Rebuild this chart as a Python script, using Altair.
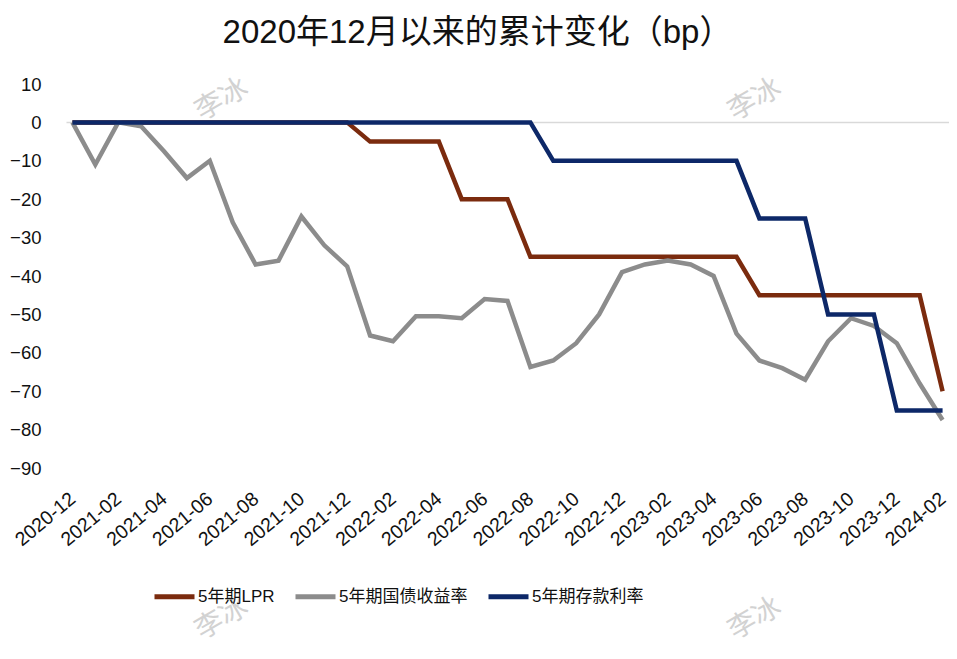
import altair as alt
import pandas as pd

months = ["2020-12","2021-01","2021-02","2021-03","2021-04","2021-05","2021-06","2021-07","2021-08","2021-09",
          "2021-10","2021-11","2021-12","2022-01","2022-02","2022-03","2022-04","2022-05","2022-06","2022-07",
          "2022-08","2022-09","2022-10","2022-11","2022-12","2023-01","2023-02","2023-03","2023-04","2023-05",
          "2023-06","2023-07","2023-08","2023-09","2023-10","2023-11","2023-12","2024-01","2024-02"]

lpr = [0,0,0,0,0,0,0,0,0,0,0,0,0,-5,-5,-5,-5,-20,-20,-20,-35,-35,-35,-35,-35,-35,-35,-35,-35,-35,
       -45,-45,-45,-45,-45,-45,-45,-45,-70]
bond = [0,-11,0,-1,-7.5,-14.5,-10,-26,-37,-36,-24.5,-32,-37.5,-55.5,-57,-50.5,-50.5,-51,-46,-46.5,
        -63.7,-62,-57.5,-50,-39,-37,-36,-37,-40,-55,-62,-64,-67,-57,-51,-53,-57.5,-68,-77.5]
deposit = [0,0,0,0,0,0,0,0,0,0,0,0,0,0,0,0,0,0,0,0,0,-10,-10,-10,-10,-10,-10,-10,-10,-10,
           -25,-25,-25,-50,-50,-50,-75,-75,-75]

series_names = ["5年期LPR", "5年期国债收益率", "5年期存款利率"]
series_colors = ["#7B2B0E", "#8C8C8C", "#0D2868"]
tick_labels = months[::2]
y_ticks = [10, 0, -10, -20, -30, -40, -50, -60, -70, -80, -90]

rows = []
for name, vals, order in zip(series_names, [lpr, bond, deposit], [1, 0, 2]):
    for m, v in zip(months, vals):
        rows.append({"month": m, "value": v, "series": name, "order": order})
df = pd.DataFrame(rows)

FONT = "Liberation Sans, Arial, Noto Sans CJK SC"

x_enc = alt.X("month:O", sort=months,
              scale=alt.Scale(type="point", padding=0.28),
              axis=alt.Axis(title=None, values=tick_labels, labelAngle=-40, labelAlign="right",
                            labelBaseline="middle", labelFontSize=19.5, labelColor="#111",
                            labelPadding=28, domain=False, ticks=False, labelFont=FONT,
                            labelOverlap=False))
y_enc = alt.Y("value:Q", scale=alt.Scale(domain=[-90, 10], nice=False, zero=False),
              axis=alt.Axis(title=None, values=y_ticks, grid=True, domain=False, ticks=False,
                            gridColor="#d9d9d9", gridWidth=1.5,
                            gridOpacity=alt.condition("datum.value === 0", alt.value(1), alt.value(0)),
                            labelFontSize=18.5, labelColor="#111", labelPadding=25, labelFont=FONT,
                            labelOverlap=False))

lines = alt.Chart(df).mark_line(strokeWidth=4.5, strokeJoin="miter").encode(
    x=x_enc, y=y_enc,
    color=alt.Color("series:N", sort=series_names,
                    scale=alt.Scale(domain=series_names, range=series_colors),
                    legend=alt.Legend(title=None, orient="none", direction="horizontal",
                                      legendX=86, legendY=490, symbolType="stroke",
                                      symbolStrokeWidth=5, symbolSize=1600, labelFontSize=17,
                                      labelColor="#111", labelFont=FONT, columnPadding=10,
                                      symbolOffset=0, labelOffset=1)),
    order=alt.Order("order:Q"),
    detail="series:N",
)

wm_pos = [(156, 16), (689, 16), (156, 535), (689, 535)]
wms = []
for (wx, wy) in wm_pos:
    wms.append(alt.Chart(pd.DataFrame({"t": ["李冰"]})).mark_text(
        fontSize=28, color="#d2d2d2", angle=330, font="Noto Sans CJK SC").encode(
        text="t:N", x=alt.value(wx), y=alt.value(wy)))

chart = alt.layer(lines, *wms).properties(
    width=883, height=384,
    title=alt.TitleParams("2020年12月以来的累计变化（bp）", fontSize=33, fontWeight="normal",
                          font="Liberation Sans, Noto Sans CJK SC", color="#111", offset=24, dx=-30),
    autosize=alt.AutoSizeParams(type="none"),
    padding={"left": 58, "top": 76, "right": 0, "bottom": 183},
).configure_view(stroke=None)

chart.save("out.html", embed_options={"renderer": "svg", "actions": False})
